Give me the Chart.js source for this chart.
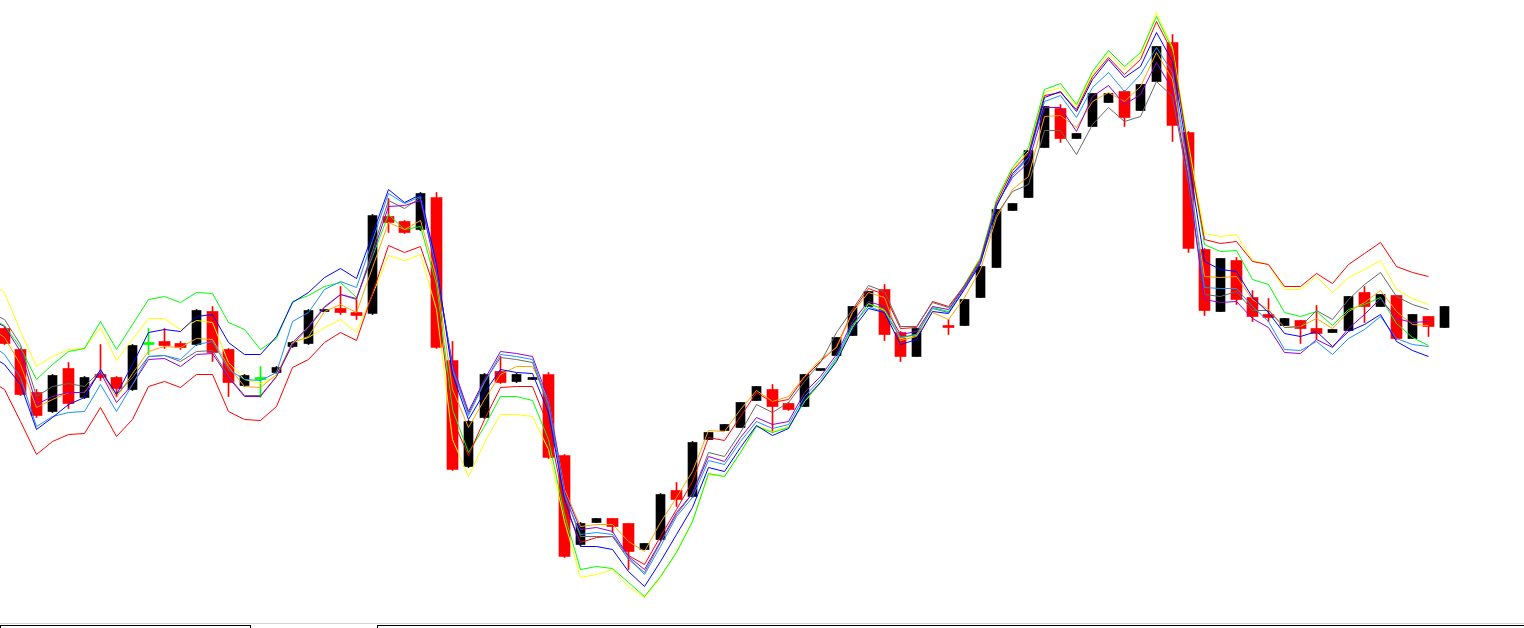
<!DOCTYPE html>
<html>
<head>
<meta charset="utf-8">
<script src="https://cdn.jsdelivr.net/npm/chart.js@4.4.1/dist/chart.umd.min.js"></script>
<style>
  html, body { margin: 0; padding: 0; background: #fff; overflow: hidden; }
  #wrap { width: 1524px; height: 628px; }
</style>
</head>
<body>
<div id="wrap"><canvas id="chart" width="1524" height="628"></canvas></div>
<script>
// candles, bar 0 .. 90 (null = no bar drawn)
const candleOpen = [
  299, 278, 235, 216, 259, 230, 253, 250, 238, 285,
  286, 284, 283, 316, 278, 242, 250, 255, 281, 284,
  316, 319, 315, 314, 411, 406, 398, 430, 267, 161,
  210, 256, 246, 248, 253, 172, 83, 105, 109, 104,
  78, 88, 137, 131, 188, 197, 200, 227, 238, 224,
  221, 257, 272, 292, 321, 338, 295, 271, null, 302,
  302, 330, 360, 417, 430, 480, 519, 489, 501, 525,
  536, 517, 546, 585, 495, 378, 316, 367, 330, 313,
  302, 307, 299, 295, 297, 335, 321, 332, 289, 311,
  300
];
const candleHigh = [
  300, 279, 238, 253, 265, 251, 283, 251, 283, 299,
  299, 286, 318, 321, 279, 253, 261, 261, 286, 318,
  317, 341, 329, 413, 429, 407, 435, 435, 286, 207,
  254, 271, 254, 250, 255, 173, 105, 109, 109, 104,
  84, 134, 145, 186, 195, 203, 225, 241, 243, 225,
  253, 258, 290, 321, 336, 343, 296, 299, null, 308,
  328, 361, 418, 424, 477, 521, 523, 494, 534, 534,
  537, 543, 581, 593, 496, 379, 369, 370, 337, 329,
  309, 307, 322, 298, 331, 341, 333, 332, 313, 311,
  321
];
const candleLow = [
  283, 232, 210, 215, 219, 229, 247, 231, 237, 273,
  279, 278, 282, 266, 231, 241, 230, 254, 280, 283,
  316, 313, 308, 313, 395, 394, 397, 279, 157, 160,
  209, 244, 245, 248, 169, 70, 82, 105, 95, 58,
  78, 87, 121, 130, 188, 197, 200, 227, 195, 217,
  221, 257, 272, 292, 321, 287, 266, 271, null, 293,
  302, 330, 360, 417, 430, 480, 485, 489, 501, 525,
  501, 517, 546, 486, 375, 312, 316, 323, 306, 306,
  302, 284, 288, 295, 297, 305, 321, 288, 289, 291,
  300
];
const candleClose = [
  284, 233, 212, 252, 224, 250, 250, 239, 282, 285,
  282, 280, 317, 275, 245, 252, 250, 260, 285, 317,
  317, 315, 312, 412, 405, 395, 434, 280, 158, 206,
  253, 245, 253, 250, 170, 71, 104, 109, 101, 76,
  84, 133, 128, 185, 195, 203, 225, 241, 221, 218,
  253, 258, 290, 321, 336, 293, 271, 299, null, 300,
  328, 361, 418, 424, 477, 521, 489, 494, 534, 534,
  510, 543, 581, 502, 379, 317, 369, 328, 311, 310,
  309, 299, 294, 298, 331, 321, 333, 289, 313, 301,
  321
];

// indicator lines, bar -1 .. 89
const lineStart = -1;
const ma1 = [
  347, 335, 296, 261, 271, 278, 279, 300, 267, 288,
  309, 309, 298, 307, 305, 265, 248, 244, 251, 285,
  290, 300, 308, 295, 333, 372, 367, 373, 318, 188,
  151, 185, 213, 213, 211, 178, 106, 50, 53, 58,
  41, 30, 50, 76, 106, 153, 151, 175, 202, 196,
  201, 226, 244, 267, 300, 324, 317, 289, 292, 319,
  315, 342, 369, 426, 458, 476, 535, 540, 521, 553,
  574, 558, 572, 615, 580, 483, 394, 391, 393, 367,
  363, 338, 338, 351, 335, 350, 358, 367, 338, 329,
  323
];
const ma2 = [
  310, 302, 280, 248, 263, 276, 279, 306, 278, 303,
  328, 331, 325, 335, 334, 305, 298, 278, 289, 326,
  332, 341, 345, 330, 371, 413, 398, 401, 343, 218,
  175, 201, 231, 231, 227, 188, 113, 58, 61, 59,
  45, 31, 51, 75, 106, 154, 151, 175, 201, 195,
  200, 226, 245, 268, 301, 324, 318, 290, 293, 320,
  316, 343, 370, 428, 460, 480, 538, 544, 523, 556,
  577, 561, 575, 611, 578, 478, 383, 376, 377, 348,
  343, 315, 311, 316, 302, 318, 323, 330, 304, 290,
  282
];
const ma3 = [
  248, 238, 206, 173, 186, 193, 194, 220, 191, 208,
  241, 246, 240, 253, 253, 216, 208, 207, 221, 260,
  268, 285, 295, 287, 334, 382, 375, 381, 333, 208,
  172, 208, 240, 241, 241, 201, 123, 85, 90, 91,
  72, 63, 91, 118, 146, 190, 187, 211, 235, 225,
  228, 250, 266, 281, 316, 339, 333, 299, 300, 326,
  321, 342, 368, 425, 457, 474, 532, 535, 518, 551,
  570, 553, 568, 606, 575, 476, 388, 384, 386, 366,
  363, 341, 341, 354, 344, 363, 374, 385, 361, 355,
  351
];
const ma4 = [
  273, 263, 243, 198, 210, 223, 230, 258, 233, 263,
  295, 298, 296, 311, 313, 285, 273, 273, 291, 325,
  335, 350, 359, 349, 393, 438, 425, 433, 363, 253,
  208, 235, 258, 255, 254, 215, 128, 81, 81, 78,
  56, 41, 66, 93, 120, 160, 156, 180, 202, 192,
  199, 228, 245, 266, 298, 319, 315, 283, 288, 316,
  314, 338, 364, 421, 454, 471, 530, 536, 516, 548,
  568, 550, 561, 595, 566, 468, 366, 358, 356, 330,
  315, 294, 291, 296, 281, 296, 303, 313, 286, 277,
  271
];
const ma5 = [
  285, 273, 250, 201, 211, 215, 216, 243, 216, 243,
  271, 272, 268, 283, 286, 258, 248, 247, 255, 306,
  315, 338, 346, 340, 387, 434, 424, 431, 360, 258,
  212, 245, 273, 271, 268, 223, 133, 93, 95, 93,
  70, 53, 81, 111, 130, 167, 163, 186, 206, 199,
  203, 231, 248, 270, 303, 321, 315, 290, 293, 319,
  315, 339, 365, 422, 452, 470, 526, 532, 510, 540,
  555, 536, 553, 580, 555, 458, 340, 339, 339, 321,
  306, 278, 277, 286, 273, 289, 298, 311, 289, 283,
  281
];
const ma6 = [
  316, 308, 283, 231, 241, 244, 241, 257, 233, 250,
  271, 272, 266, 276, 277, 251, 232, 232, 251, 285,
  301, 321, 333, 328, 377, 427, 419, 430, 358, 260,
  214, 246, 270, 268, 265, 221, 133, 91, 91, 91,
  68, 55, 85, 113, 134, 175, 171, 195, 223, 215,
  225, 246, 265, 295, 318, 342, 336, 301, 301, 325,
  320, 341, 366, 413, 436, 443, 497, 497, 473, 503,
  520, 506, 511, 546, 531, 443, 333, 331, 336, 317,
  317, 300, 301, 317, 308, 328, 343, 355, 331, 323,
  318
];
const ma7 = [
  309, 301, 276, 223, 231, 235, 235, 255, 225, 243,
  268, 269, 261, 273, 274, 250, 231, 231, 251, 283,
  300, 320, 333, 329, 373, 421, 422, 427, 356, 263,
  216, 248, 276, 274, 271, 228, 136, 98, 100, 96,
  71, 58, 86, 115, 134, 171, 166, 190, 210, 203,
  206, 235, 251, 273, 306, 326, 321, 293, 296, 321,
  318, 340, 366, 423, 450, 465, 520, 520, 496, 531,
  542, 523, 533, 565, 538, 448, 328, 325, 326, 309,
  300, 275, 274, 288, 280, 299, 313, 329, 309, 305,
  306
];
const ma8 = [
  301, 290, 263, 220, 228, 235, 235, 257, 230, 254,
  276, 281, 280, 289, 288, 261, 241, 240, 253, 285,
  291, 316, 323, 315, 360, 405, 398, 407, 350, 238,
  200, 228, 253, 261, 261, 228, 138, 101, 103, 103,
  86, 76, 105, 130, 156, 197, 196, 218, 237, 226,
  231, 251, 268, 280, 315, 335, 330, 287, 291, 315,
  308, 330, 358, 410, 438, 451, 511, 512, 500, 526,
  535, 526, 541, 575, 548, 453, 351, 350, 351, 328,
  318, 300, 301, 309, 299, 316, 325, 337, 316, 303,
  302
];

const lineSeries = [
  { data: ma4, color: "#0000ff" },
  { data: ma5, color: "#1e90ff" },
  { data: ma7, color: "#9400d3" },
  { data: ma6, color: "#696969" },
  { data: ma8, color: "#ffa500" },
  { data: ma3, color: "#ff0000" },
  { data: ma2, color: "#00ff00" },
  { data: ma1, color: "#ffff00" },
];

const upColor = "#000000";
const downColor = "#ff0000";
const dojiColor = "#00ff00";

function candleColor(i) {
  if (candleClose[i] > candleOpen[i]) return upColor;
  if (candleClose[i] < candleOpen[i]) return downColor;
  return dojiColor;
}

// split bodies by direction so each gets its own width
const upBodies = [], downBodies = [], dojiBodies = [], wicks = [], wickColors = [];
candleOpen.forEach((o, i) => {
  if (o === null) return;
  const point = { x: i, y: [o, candleClose[i]] };
  if (candleClose[i] > o) upBodies.push(point);
  else if (candleClose[i] < o) downBodies.push(point);
  else dojiBodies.push(point);
  wicks.push({ x: i, y: [candleLow[i], candleHigh[i]] });
  wickColors.push(candleColor(i));
});

function bodySet(data, color, width) {
  return {
    type: "bar",
    data: data,
    backgroundColor: color,
    borderWidth: 0,
    grouped: false,
    barThickness: width,
    maxBarThickness: width,
    minBarLength: 2,
    order: 2,
  };
}

const datasets = [];

lineSeries.forEach((s) => {
  datasets.push({
    type: "line",
    data: s.data.map((v, k) => ({ x: lineStart + k, y: v })),
    borderColor: s.color,
    borderWidth: 1,
    pointRadius: 0,
    tension: 0,
    fill: false,
    order: 1,
  });
});

datasets.push(bodySet(upBodies, upColor, 9));
datasets.push(bodySet(downBodies, downColor, 11));
datasets.push(bodySet(dojiBodies, dojiColor, 11));
datasets.push({
  type: "bar",
  data: wicks,
  backgroundColor: wickColors,
  borderWidth: 0,
  grouped: false,
  barThickness: 1,
  maxBarThickness: 1,
  order: 2,
});

// terminal-style tab strip along the bottom edge
const tabStrip = {
  id: "tabStrip",
  afterDraw(chart) {
    const c = chart.ctx;
    c.save();
    c.fillStyle = "#d4d4d4";
    c.fillRect(0, 623, 1524, 1);
    c.fillStyle = "#000000";
    c.fillRect(0, 625, 251, 1);
    c.fillRect(0, 625, 1, 3);
    c.fillRect(250, 625, 1, 3);
    c.fillRect(377, 625, 1147, 1);
    c.fillRect(377, 625, 1, 3);
    c.restore();
  },
};

new Chart(document.getElementById("chart").getContext("2d"), {
  type: "bar",
  data: { datasets: datasets },
  options: {
    responsive: false,
    animation: false,
    events: [],
    layout: { padding: 0 },
    plugins: {
      legend: { display: false },
      tooltip: { enabled: false },
    },
    scales: {
      x: {
        type: "linear",
        min: -0.28125,
        max: 94.96875,
        offset: false,
        display: false,
      },
      y: {
        type: "linear",
        min: -0.5,
        max: 627.5,
        display: false,
      },
    },
  },
  plugins: [tabStrip],
});
</script>
</body>
</html>
